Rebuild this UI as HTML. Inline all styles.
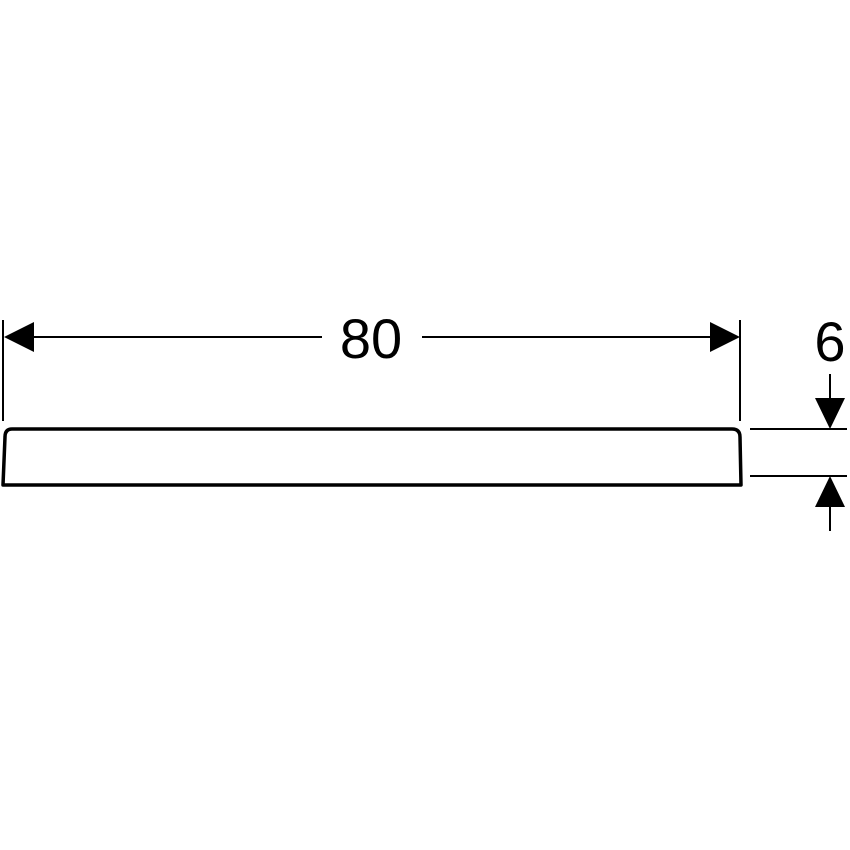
<!DOCTYPE html>
<html><head><meta charset="utf-8"><style>html,body{margin:0;padding:0;background:#fff}svg{display:block}</style></head>
<body>
<svg width="850" height="850" viewBox="0 0 850 850" xmlns="http://www.w3.org/2000/svg">
<g stroke="#000" fill="none">
<line x1="3" y1="320" x2="3" y2="421" stroke-width="2"/>
<line x1="740" y1="320" x2="740" y2="421" stroke-width="2"/>
<line x1="30" y1="337" x2="322" y2="337" stroke-width="2"/>
<line x1="422" y1="337" x2="715" y2="337" stroke-width="2"/>
<path d="M12,429 L732,429 Q740,429 740,437 L741,485 L3,485 L5,437 Q5,429 12,429 Z" stroke-width="3.5" stroke-linejoin="round"/>
<line x1="750" y1="429" x2="847" y2="429" stroke-width="2"/>
<line x1="750" y1="476" x2="847" y2="476" stroke-width="2"/>
<line x1="830" y1="374" x2="830" y2="400" stroke-width="2"/>
<line x1="830" y1="505" x2="830" y2="531" stroke-width="2"/>
</g>
<g fill="#000">
<polygon points="4,337 34,322 34,352"/>
<polygon points="740,337 710,322 710,352"/>
<polygon points="830,429 815,398 845,398"/>
<polygon points="830,476 815,507 845,507"/>
</g>
<text x="371" y="358" font-family="Liberation Sans, sans-serif" font-size="56" text-anchor="middle">80</text>
<text x="830" y="361" font-family="Liberation Sans, sans-serif" font-size="56" text-anchor="middle">6</text>
</svg>
</body></html>
